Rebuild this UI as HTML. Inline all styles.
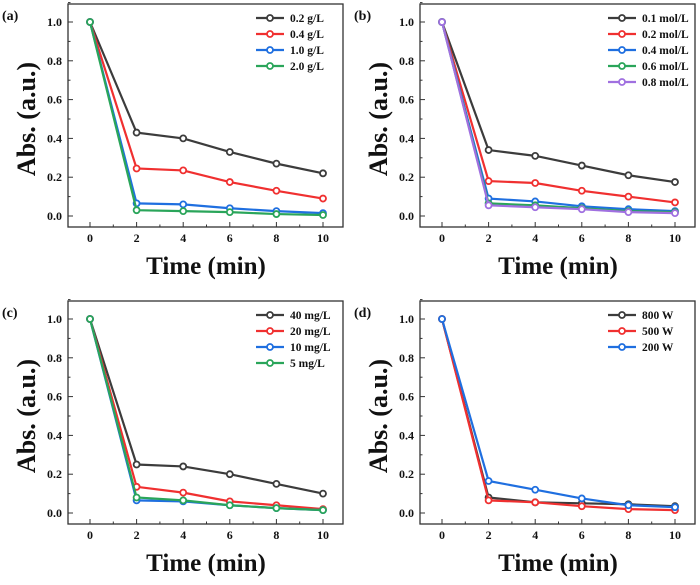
<!DOCTYPE html>
<html><head><meta charset="utf-8"><style>
body{margin:0;background:#fff}
svg text{font-family:"Liberation Serif",serif;font-weight:bold;fill:#111}
</style></head><body>
<svg id="fig" width="700" height="580"></svg>
<script>
const xTicks=[0,2,4,6,8,10];
const yTicks=[0,0.2,0.4,0.6,0.8,1.0];
const times=[0,2,4,6,8,10];
const aLabels=["0.2 g/L","0.4 g/L","1.0 g/L","2.0 g/L"];
const aValues=[[1,.43,.40,.33,.27,.22],[1,.245,.235,.175,.13,.09],[1,.065,.06,.04,.025,.015],[1,.03,.025,.02,.01,.005]];
const bLabels=["0.1 mol/L","0.2 mol/L","0.4 mol/L","0.6 mol/L","0.8 mol/L"];
const bValues=[[1,.34,.31,.26,.21,.175],[1,.18,.17,.13,.10,.07],[1,.09,.075,.05,.035,.025],[1,.065,.055,.04,.025,.02],[1,.055,.045,.035,.02,.015]];
const cLabels=["40  mg/L","20  mg/L","10  mg/L","5    mg/L"];
const cValues=[[1,.25,.24,.20,.15,.10],[1,.135,.105,.06,.04,.02],[1,.065,.06,.04,.025,.015],[1,.08,.065,.04,.025,.015]];
const dLabels=["800 W","500 W","200 W"];
const dValues=[[1,.08,.055,.05,.045,.035],[1,.065,.055,.035,.02,.015],[1,.165,.12,.075,.04,.03]];
const colors=["#3c3c3c","#f03030","#1f6fe0","#2aa55a","#a070e0"];
const NS="http://www.w3.org/2000/svg";
const svg=document.getElementById('fig');
function mk(tag,attrs,parent){const e=document.createElementNS(NS,tag);for(const k in attrs)e.setAttribute(k,attrs[k]);(parent||svg).appendChild(e);return e;}
function panel(ox,oy,tag,labels,values,id){
  const g=mk('g',{transform:`translate(${ox},${oy})`});
  
  
  const sx=v=>90+v*(323-90)/10, sy=v=>216-v*(216-22);
  const f=mk('rect',{x:68,y:4,width:275,height:223,fill:'none',stroke:'#333','stroke-width':1.3},g);
  
  
  xTicks.forEach(t=>{mk('line',{x1:sx(t),x2:sx(t),y1:227,y2:222,stroke:'#333'},g);
    if(t<10)mk('line',{x1:sx(t+1),x2:sx(t+1),y1:227,y2:224.5,stroke:'#333'},g);
    const tx=mk('text',{x:sx(t),y:242,'text-anchor':'middle','font-size':12},g);tx.textContent=t;
    
    });
  yTicks.forEach(t=>{mk('line',{x1:68,x2:73,y1:sy(t),y2:sy(t),stroke:'#333'},g);
    mk('line',{x1:68,x2:70.5,y1:sy(t+0.1),y2:sy(t+0.1),stroke:'#333'},g);
    const tx=mk('text',{x:62,y:sy(t)+4,'text-anchor':'end','font-size':12},g);tx.textContent=t.toFixed(1);
    
    });
  const xt=mk('text',{x:206,y:274,'text-anchor':'middle','font-size':25},g);xt.textContent='Time (min)';
  
  
  const yt=mk('text',{x:0,y:0,'text-anchor':'middle','font-size':26,transform:'translate(35,119) rotate(-90)'},g);yt.textContent='Abs. (a.u.)';
  
  
  const pl=mk('text',{x:2,y:20,'font-size':14},g);pl.textContent=tag;
  
  
  values.forEach((vals,i)=>{
    const c=colors[i];
    const pts=times.map((t,j)=>sx(t)+','+sy(vals[j])).join(' ');
    const l=mk('polyline',{points:pts,fill:'none',stroke:c,'stroke-width':2.2},g);
    
    
    times.forEach((t,j)=>{const p=mk('circle',{cx:sx(t),cy:sy(vals[j]),r:3,fill:'#fff',stroke:c,'stroke-width':1.8},g);
      
      });
    const ly=18+i*16;
    const ll=mk('line',{x1:256,x2:284,y1:ly,y2:ly,stroke:c,'stroke-width':2.2},g);
    
    
    mk('circle',{cx:270,cy:ly,r:3,fill:'#fff',stroke:c,'stroke-width':1.8},g);
    const lt=mk('text',{x:290,y:ly+4,'font-size':11.5},g);lt.textContent=labels[i];
    
    
  });
}
panel(0,0,'(a)',aLabels,aValues,'a');
panel(352,0,'(b)',bLabels,bValues,'b');
panel(0,297,'(c)',cLabels,cValues,'c');
panel(352,297,'(d)',dLabels,dValues,'d');
</script>
</body></html>
